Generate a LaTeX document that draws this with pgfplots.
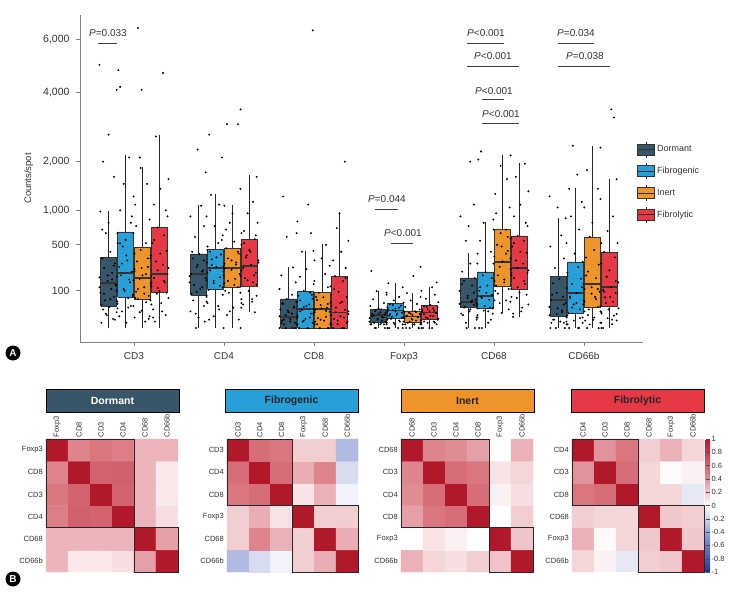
\documentclass[border=0pt]{standalone}
\usepackage{pgfplots}
\pgfplotsset{compat=1.18}
\usepackage{fontspec}
\setmainfont{Liberation Sans}
\definecolor{cDor}{HTML}{37566A}
\definecolor{cFib}{HTML}{28A0D7}
\definecolor{cIne}{HTML}{EE942A}
\definecolor{cFbl}{HTML}{E63946}
\definecolor{cEdge}{HTML}{333333}
\pgfplotsset{/pgf/number format/assume math mode=true}
\pgfplotsset{
  colorbar shift/.style={},
  pts/.style={forget plot, only marks, mark=*, mark size=0.75pt, mark options={draw=none,fill=black}},
  colormap={corr}{rgb255(0cm)=(26,58,150); rgb255(1cm)=(125,140,205); rgb255(2cm)=(255,255,255); rgb255(3cm)=(218,118,128); rgb255(4cm)=(178,24,43)},
  hm/.style={anchor=south west, scale only axis, height=133pt,
     xmin=-0.5,xmax=5.5,ymin=-0.5,ymax=5.5, enlargelimits=false,
     axis line style={draw=none}, major tick length=0pt,
     xtick={0,...,5}, ytick={0,...,5}, xticklabel pos=right,
     xticklabel style={rotate=90, anchor=west, font=\fontsize{7.5}{8}\selectfont, text=black!80, inner sep=1.5pt},
     yticklabel style={font=\fontsize{7.5}{8}\selectfont, text=black!80, inner sep=3pt},
     colormap name=corr, point meta min=-1, point meta max=1, clip=false},
  hmplot/.style={matrix plot*, mesh/cols=6, point meta=explicit},
}
% box: #1 colour, #2 position, #3 lower whisker, #4 Q1, #5 median, #6 Q3, #7 upper whisker
\newcommand{\bxp}[7]{%
 \addplot[forget plot, black!85, line width=1.2pt] table[row sep=\\, x expr=#2, y expr=sqrt(\thisrow{v})]{v\\ #3\\ #7\\};
 \addplot[forget plot, fill=#1, draw=cEdge, line width=0.9pt, line join=miter] table[row sep=\\, x expr=#2+\thisrow{d}, y expr=sqrt(\thisrow{v})]{d v\\ -0.089 #4\\ 0.089 #4\\ 0.089 #6\\ -0.089 #6\\ -0.089 #4\\};
 \addplot[forget plot, cEdge, line width=1.3pt] table[row sep=\\, x expr=#2+\thisrow{d}, y expr=sqrt(\thisrow{v})]{d v\\ -0.089 #5\\ 0.089 #5\\};
}
% jittered points: #1 box position, #2 rows "jitter value\\"
\newcommand{\ptP}[2]{\addplot[pts] table[row sep=\\, x expr=#1+(\thisrow{j}), y expr=sqrt(\thisrow{v})]{j v\\ #2};}
\newcommand{\ptM}[2]{\addplot[pts] table[row sep=\\, x expr=#1-(\thisrow{j}), y expr=sqrt(\thisrow{v})]{j v\\ #2};}
\begin{document}
\begin{tikzpicture}
\useasboundingbox (0pt,0pt) rectangle (735pt,592pt);
% ================= Panel A (square-root scale) =================
\begin{axis}[at={(80pt,250pt)}, anchor=south west, scale only axis,
  width=563pt, height=327pt, clip=false,
  xmin=-0.6, xmax=5.656, ymin=-3.755, ymax=84.12,
  axis x line*=bottom, axis y line*=left,
  axis line style={draw=gray, line width=0.9pt},
  tick align=outside, major tick length=4pt, tick style={draw=gray, line width=0.9pt},
  xtick={0,...,5}, xticklabels={CD3,CD4,CD8,Foxp3,CD68,CD66b},
  ytick={10,22.3607,31.6228,44.7214,63.2456,77.4597},
  yticklabels={100,500,{1,000},{2,000},{4,000},{6,000}},
  xticklabel style={font=\fontsize{10}{12}\selectfont, text=black!80, yshift=-3pt},
  yticklabel style={font=\fontsize{10.5}{12}\selectfont, text=black!80, xshift=-3pt},
  ylabel={Counts/spot},
  ylabel style={font=\fontsize{9.5}{11}\selectfont, text=black!80, at={(axis description cs:-0.077,0.5)}, anchor=south},
  legend style={at={(0.9893,0.615)}, anchor=north west, draw=none, fill=none, inner sep=0pt,
     font=\fontsize{9}{10}\selectfont, text=black!80, row sep=4.8pt},
  legend cell align=left,
]
% --- CD3
\bxp{cDor}{-0.283}{0}{35}{146}{364}{989}
\bxp{cFib}{-0.094}{0}{69}{219}{666}{2163}
\bxp{cIne}{0.094}{0}{57}{181}{474}{1873}
\bxp{cFbl}{0.283}{0}{89}{211}{737}{2692}
% --- CD4
\bxp{cDor}{0.717}{0}{79}{211}{396}{1093}
\bxp{cFib}{0.906}{0}{110}{260}{451}{1297}
\bxp{cIne}{1.094}{0}{121}{260}{462}{1093}
\bxp{cFbl}{1.283}{18}{127}{278}{572}{1691}
% --- CD8
\bxp{cDor}{1.717}{0}{0}{9}{61}{269}
\bxp{cFib}{1.906}{0}{0}{26}{99}{428}
\bxp{cIne}{2.094}{0}{0}{26}{89}{510}
\bxp{cFbl}{2.283}{0}{0}{18}{195}{972}
% --- Foxp3
\bxp{cDor}{2.717}{0}{2}{12}{26}{99}
\bxp{cFib}{2.906}{0}{6}{23}{45}{146}
\bxp{cIne}{3.094}{0}{2}{10}{21}{89}
\bxp{cFbl}{3.283}{0}{5}{18}{38}{121}
% --- CD68
\bxp{cDor}{3.717}{0}{32}{49}{181}{406}
\bxp{cFib}{3.906}{0}{29}{74}{227}{812}
\bxp{cIne}{4.094}{16}{127}{315}{708}{2163}
\bxp{cFbl}{4.283}{9}{110}{260}{612}{1967}
% --- CD66b
\bxp{cDor}{4.717}{0}{9}{57}{195}{874}
\bxp{cFib}{4.906}{0}{16}{89}{315}{1416}
\bxp{cIne}{5.094}{0}{32}{140}{598}{2394}
\bxp{cFbl}{5.283}{0}{35}{121}{417}{1604}
% ---------- points
% CD3
\ptP{-0.283}{-0.08 2\\ 0.05 6\\ -0.02 12\\ 0.09 18\\ -0.06 25\\ 0.01 32\\ 0.10 42\\ -0.04 55\\ 0.06 70\\ -0.09 90\\ 0.03 110\\ 0.08 135\\ -0.01 160\\ -0.10 185\\ 0.04 220\\ -0.05 260\\ 0.07 300\\ -0.07 350\\ 0.02 420\\ 0.10 520\\ -0.03 650\\ 0.00 800\\ -0.09 980\\ 0.06 1650\\ -0.06 2000\\ 0.00 2700\\ -0.10 5000\\}
\ptP{-0.094}{0.01 2\\ 0.10 8\\ -0.04 20\\ 0.06 35\\ -0.09 50\\ 0.03 65\\ 0.08 80\\ -0.01 100\\ -0.10 130\\ 0.04 170\\ -0.05 200\\ 0.07 230\\ -0.07 270\\ 0.02 330\\ 0.10 400\\ -0.03 480\\ 0.00 560\\ -0.09 650\\ 0.06 800\\ -0.06 1000\\ 0.09 1250\\ -0.02 1500\\ 0.04 2100\\ -0.10 4100\\ -0.06 4200\\ -0.08 4800\\}
\ptP{0.094}{0.03 3\\ 0.08 10\\ -0.01 22\\ -0.10 35\\ 0.04 48\\ -0.05 60\\ 0.07 75\\ -0.07 95\\ 0.02 120\\ 0.10 150\\ -0.03 175\\ 0.00 200\\ -0.09 230\\ 0.06 270\\ -0.06 320\\ 0.09 380\\ -0.02 440\\ 0.04 520\\ -0.10 650\\ 0.08 850\\ -0.08 1100\\ 0.05 1500\\ -0.02 1850\\ -0.03 2100\\ -0.01 4100\\ -0.05 6500\\}
\ptP{0.283}{-0.05 3\\ 0.07 12\\ -0.07 25\\ 0.02 45\\ 0.10 65\\ -0.03 85\\ 0.00 100\\ -0.09 125\\ 0.06 150\\ -0.06 180\\ 0.09 210\\ -0.02 240\\ 0.04 290\\ -0.10 350\\ 0.08 430\\ -0.08 520\\ 0.05 620\\ -0.02 730\\ 0.09 900\\ -0.06 1100\\ 0.01 1400\\ 0.10 1600\\ -0.04 2650\\ 0.04 4700\\}
\ptP{-0.283}{0.07 5\\ -0.03 15\\ 0.10 28\\ -0.08 40\\ 0.02 60\\ -0.05 85\\ 0.09 100\\ -0.10 120\\ 0.04 170\\ -0.01 200\\ 0.06 280\\ -0.07 700\\}
\ptM{-0.094}{0.07 10\\ -0.03 30\\ 0.10 55\\ -0.08 75\\ 0.02 110\\ -0.05 150\\ 0.09 190\\ -0.10 250\\ 0.04 300\\ -0.01 380\\ 0.06 520\\ -0.07 900\\}
\ptP{0.094}{0.07 6\\ -0.03 18\\ 0.10 40\\ -0.08 65\\ 0.02 85\\ -0.05 110\\ 0.09 140\\ -0.10 165\\ 0.04 210\\ -0.01 260\\ 0.06 350\\ -0.07 750\\}
\ptM{0.283}{0.07 8\\ -0.03 20\\ 0.10 55\\ -0.08 90\\ 0.02 115\\ -0.05 160\\ 0.09 195\\ -0.10 260\\ 0.04 320\\ -0.01 400\\ 0.06 560\\ -0.07 1000\\}
% CD4
\ptP{0.717}{-0.03 0\\ 0.00 8\\ -0.09 20\\ 0.06 35\\ -0.06 55\\ 0.09 75\\ -0.02 95\\ 0.04 120\\ -0.10 150\\ 0.08 180\\ -0.08 210\\ 0.05 240\\ -0.02 270\\ 0.09 310\\ -0.06 350\\ 0.01 395\\ 0.10 480\\ -0.04 600\\ 0.06 750\\ -0.09 900\\ 0.03 1080\\ 0.08 1750\\ -0.01 2300\\}
\ptP{0.906}{0.09 0\\ -0.02 10\\ 0.04 25\\ -0.10 50\\ 0.08 80\\ -0.08 105\\ 0.05 130\\ -0.02 160\\ 0.09 200\\ -0.06 240\\ 0.01 270\\ 0.10 300\\ -0.04 340\\ 0.06 390\\ -0.09 440\\ 0.03 520\\ 0.08 620\\ -0.01 750\\ -0.10 900\\ 0.04 1100\\ -0.05 1280\\ 0.07 2100\\ -0.07 2700\\}
\ptP{1.094}{0.09 0\\ -0.06 12\\ 0.01 30\\ 0.10 60\\ -0.04 90\\ 0.06 120\\ -0.09 145\\ 0.03 175\\ 0.08 210\\ -0.01 245\\ -0.10 275\\ 0.04 310\\ -0.05 350\\ 0.07 400\\ -0.07 460\\ 0.02 540\\ 0.10 650\\ -0.03 800\\ 0.00 950\\ -0.09 1080\\ 0.06 3000\\ -0.06 3000\\ 0.09 3450\\}
\ptP{1.283}{0.06 18\\ -0.09 30\\ 0.03 50\\ 0.08 75\\ -0.01 100\\ -0.10 125\\ 0.04 150\\ -0.05 180\\ 0.07 220\\ -0.07 260\\ 0.02 290\\ 0.10 330\\ -0.03 380\\ 0.00 440\\ -0.09 500\\ 0.06 570\\ -0.06 680\\ 0.09 800\\ -0.02 950\\ 0.04 1150\\ -0.10 1400\\ 0.08 1650\\}
\ptP{0.717}{0.07 3\\ -0.03 15\\ 0.10 45\\ -0.08 85\\ 0.02 110\\ -0.05 135\\ 0.09 165\\ -0.10 195\\ 0.04 230\\ -0.01 290\\ 0.06 330\\ -0.07 420\\}
\ptM{0.906}{0.07 5\\ -0.03 35\\ 0.10 70\\ -0.08 120\\ 0.02 145\\ -0.05 185\\ 0.09 220\\ -0.10 255\\ 0.04 285\\ -0.01 360\\ 0.06 420\\ -0.07 560\\}
\ptP{1.094}{0.07 5\\ -0.03 20\\ 0.10 45\\ -0.08 100\\ 0.02 135\\ -0.05 160\\ 0.09 195\\ -0.10 230\\ 0.04 290\\ -0.01 330\\ 0.06 420\\ -0.07 700\\}
\ptM{1.283}{0.07 40\\ -0.03 60\\ 0.10 90\\ -0.08 135\\ 0.02 165\\ -0.05 200\\ 0.09 240\\ -0.10 310\\ 0.04 360\\ -0.01 420\\ 0.06 520\\ -0.07 620\\}
% CD8
\ptP{1.717}{-0.10 0\\ 0.04 0\\ -0.05 1\\ 0.07 2\\ -0.07 4\\ 0.02 6\\ 0.10 9\\ -0.03 12\\ 0.00 18\\ -0.09 25\\ 0.06 33\\ -0.06 42\\ 0.09 50\\ -0.02 60\\ 0.04 80\\ -0.10 110\\ 0.08 150\\ -0.08 200\\ 0.05 265\\ -0.02 600\\ 0.09 650\\ -0.06 1250\\}
\ptP{1.906}{0.02 0\\ 0.10 1\\ -0.03 3\\ 0.00 6\\ -0.09 10\\ 0.06 15\\ -0.06 20\\ 0.09 26\\ -0.02 32\\ 0.04 40\\ -0.10 50\\ 0.08 62\\ -0.08 75\\ 0.05 90\\ -0.02 100\\ 0.09 140\\ -0.06 190\\ 0.01 250\\ 0.10 330\\ -0.04 420\\ 0.06 650\\ -0.09 820\\ 0.03 1100\\ 0.08 6400\\}
\ptP{2.094}{0.06 0\\ -0.06 1\\ 0.09 2\\ -0.02 5\\ 0.04 9\\ -0.10 14\\ 0.08 19\\ -0.08 24\\ 0.05 30\\ -0.02 38\\ 0.09 47\\ -0.06 57\\ 0.01 68\\ 0.10 80\\ -0.04 90\\ 0.06 120\\ -0.09 160\\ 0.03 210\\ 0.08 280\\ -0.01 350\\ -0.10 430\\ 0.04 500\\}
\ptP{2.283}{0.05 0\\ -0.02 1\\ 0.09 3\\ -0.06 6\\ 0.01 10\\ 0.10 14\\ -0.04 18\\ 0.06 24\\ -0.09 35\\ 0.03 50\\ 0.08 70\\ -0.01 95\\ -0.10 125\\ 0.04 160\\ -0.05 195\\ 0.07 260\\ -0.07 330\\ 0.02 420\\ 0.10 550\\ -0.03 720\\ 0.00 950\\ 0.06 2000\\}
\ptP{1.717}{0.07 0\\ -0.03 0\\ 0.10 1\\ -0.08 2\\ 0.02 3\\ -0.05 5\\ 0.09 7\\ -0.10 10\\ 0.04 15\\ -0.01 22\\ 0.06 30\\ -0.07 45\\}
\ptM{1.906}{0.07 0\\ -0.03 0\\ 0.10 1\\ -0.08 2\\ 0.02 4\\ -0.05 8\\ 0.09 12\\ -0.10 18\\ 0.04 24\\ -0.01 35\\ 0.06 55\\ -0.07 80\\}
\ptP{2.094}{0.07 0\\ -0.03 0\\ 0.10 1\\ -0.08 3\\ 0.02 4\\ -0.05 7\\ 0.09 11\\ -0.10 16\\ 0.04 21\\ -0.01 28\\ 0.06 42\\ -0.07 70\\}
\ptM{2.283}{0.07 0\\ -0.03 0\\ 0.10 1\\ -0.08 2\\ 0.02 4\\ -0.05 8\\ 0.09 12\\ -0.10 20\\ 0.04 30\\ -0.01 45\\ 0.06 110\\ -0.07 180\\}
% Foxp3
\ptP{2.717}{0.10 0\\ -0.04 0\\ 0.06 1\\ -0.09 1\\ 0.03 2\\ 0.08 3\\ -0.01 5\\ -0.10 7\\ 0.04 9\\ -0.05 11\\ 0.07 13\\ -0.07 15\\ 0.02 18\\ 0.10 21\\ -0.03 24\\ 0.00 27\\ -0.09 35\\ 0.06 45\\ -0.06 60\\ 0.09 80\\ -0.02 98\\ -0.08 235\\}
\ptP{2.906}{0.08 0\\ -0.01 1\\ -0.10 2\\ 0.04 4\\ -0.05 6\\ 0.07 8\\ -0.07 11\\ 0.02 15\\ 0.10 19\\ -0.03 23\\ 0.00 27\\ -0.09 31\\ 0.06 36\\ -0.06 41\\ 0.09 46\\ -0.02 55\\ 0.04 70\\ -0.10 90\\ 0.08 120\\ -0.08 145\\}
\ptP{3.094}{0.07 0\\ -0.07 0\\ 0.02 1\\ 0.10 2\\ -0.03 3\\ 0.00 5\\ -0.09 7\\ 0.06 9\\ -0.06 11\\ 0.09 13\\ -0.02 15\\ 0.04 18\\ -0.10 21\\ 0.08 25\\ -0.08 32\\ 0.05 42\\ -0.02 55\\ 0.09 70\\ -0.06 88\\ 0.01 195\\ 0.09 270\\}
\ptP{3.283}{0.00 0\\ -0.09 1\\ 0.06 2\\ -0.06 3\\ 0.09 5\\ -0.02 7\\ 0.04 10\\ -0.10 13\\ 0.08 16\\ -0.08 19\\ 0.05 22\\ -0.02 26\\ 0.09 30\\ -0.06 34\\ 0.01 38\\ 0.10 48\\ -0.04 62\\ 0.06 80\\ -0.09 100\\ 0.03 120\\ 0.08 150\\}
\ptP{2.717}{0.07 0\\ -0.03 0\\ 0.10 0\\ -0.08 1\\ 0.02 1\\ -0.05 2\\ 0.09 2\\ -0.10 3\\ 0.04 4\\ -0.01 6\\ 0.06 8\\ -0.07 10\\ 0.00 14\\ 0.08 17\\ -0.04 20\\ 0.03 25\\}
\ptM{2.906}{0.07 0\\ -0.03 0\\ 0.10 1\\ -0.08 1\\ 0.02 2\\ -0.05 3\\ 0.09 5\\ -0.10 7\\ 0.04 9\\ -0.01 12\\ 0.06 14\\ -0.07 17\\ 0.00 20\\ 0.08 25\\ -0.04 30\\ 0.03 38\\}
\ptP{3.094}{0.07 0\\ -0.03 0\\ 0.10 0\\ -0.08 1\\ 0.02 1\\ -0.05 2\\ 0.09 2\\ -0.10 3\\ 0.04 4\\ -0.01 6\\ 0.06 8\\ -0.07 10\\ 0.00 12\\ 0.08 14\\ -0.04 17\\ 0.03 20\\}
\ptM{3.283}{0.07 0\\ -0.03 0\\ 0.10 1\\ -0.08 1\\ 0.02 2\\ -0.05 3\\ 0.09 4\\ -0.10 6\\ 0.04 8\\ -0.01 11\\ 0.06 14\\ -0.07 17\\ 0.00 20\\ 0.08 24\\ -0.04 28\\ 0.03 33\\}
% CD68
\ptP{3.717}{-0.02 0\\ 0.09 5\\ -0.06 12\\ 0.01 20\\ 0.10 28\\ -0.04 33\\ 0.06 38\\ -0.09 44\\ 0.03 49\\ 0.08 58\\ -0.01 75\\ -0.10 100\\ 0.04 130\\ -0.05 160\\ 0.07 180\\ -0.07 230\\ 0.02 300\\ 0.10 400\\ -0.03 550\\ 0.00 750\\ -0.09 900\\ 0.06 1100\\ 0.02 2000\\}
\ptP{3.906}{-0.04 0\\ 0.06 5\\ -0.09 12\\ 0.03 20\\ 0.08 28\\ -0.01 35\\ -0.10 45\\ 0.04 58\\ -0.05 70\\ 0.07 80\\ -0.07 100\\ 0.02 130\\ 0.10 160\\ -0.03 200\\ 0.00 225\\ -0.09 300\\ 0.06 420\\ -0.06 550\\ 0.09 700\\ -0.02 800\\ -0.08 2050\\ -0.05 2250\\}
\ptP{4.094}{-0.01 16\\ -0.10 30\\ 0.04 55\\ -0.05 85\\ 0.07 110\\ -0.07 130\\ 0.02 170\\ 0.10 220\\ -0.03 270\\ 0.00 320\\ -0.09 370\\ 0.06 430\\ -0.06 500\\ 0.09 580\\ -0.02 650\\ 0.04 700\\ -0.10 850\\ 0.08 1050\\ -0.08 1300\\ 0.05 1600\\ -0.02 1900\\ 0.09 2150\\}
\ptP{4.283}{-0.07 9\\ 0.02 20\\ 0.10 40\\ -0.03 65\\ 0.00 90\\ -0.09 110\\ 0.06 140\\ -0.06 180\\ 0.09 220\\ -0.02 260\\ 0.04 300\\ -0.10 350\\ 0.08 410\\ -0.08 480\\ 0.05 550\\ -0.02 610\\ 0.09 750\\ -0.06 900\\ 0.01 1100\\ 0.10 1350\\ -0.04 1650\\ 0.06 1950\\}
\ptP{3.717}{0.07 0\\ -0.03 2\\ 0.10 8\\ -0.08 15\\ 0.02 25\\ -0.05 30\\ 0.09 36\\ -0.10 42\\ 0.04 55\\ -0.01 65\\ 0.06 90\\ -0.07 140\\}
\ptM{3.906}{0.07 0\\ -0.03 2\\ 0.10 8\\ -0.08 15\\ 0.02 22\\ -0.05 30\\ 0.09 40\\ -0.10 55\\ 0.04 65\\ -0.01 90\\ 0.06 120\\ -0.07 180\\}
\ptP{4.094}{0.07 25\\ -0.03 45\\ 0.10 70\\ -0.08 100\\ 0.02 150\\ -0.05 200\\ 0.09 250\\ -0.10 300\\ 0.04 400\\ -0.01 480\\ 0.06 600\\ -0.07 950\\}
\ptM{4.283}{0.07 15\\ -0.03 30\\ 0.10 50\\ -0.08 80\\ 0.02 120\\ -0.05 160\\ 0.09 200\\ -0.10 240\\ 0.04 330\\ -0.01 420\\ 0.06 520\\ -0.07 800\\}
% CD66b
\ptP{4.717}{-0.09 0\\ 0.06 2\\ -0.06 5\\ 0.09 9\\ -0.02 14\\ 0.04 22\\ -0.10 32\\ 0.08 45\\ -0.08 57\\ 0.05 70\\ -0.02 90\\ 0.09 115\\ -0.06 145\\ 0.01 175\\ 0.10 195\\ -0.04 260\\ 0.06 350\\ -0.09 480\\ 0.03 620\\ 0.08 870\\ -0.01 1050\\ -0.10 1250\\}
\ptP{4.906}{0.04 0\\ -0.10 3\\ 0.08 8\\ -0.08 16\\ 0.05 25\\ -0.02 40\\ 0.09 55\\ -0.06 72\\ 0.01 89\\ 0.10 110\\ -0.04 140\\ 0.06 175\\ -0.09 220\\ 0.03 270\\ 0.08 315\\ -0.01 400\\ -0.10 520\\ 0.04 700\\ -0.05 900\\ 0.07 1150\\ -0.07 1400\\ 0.02 1700\\ -0.03 2400\\}
\ptP{5.094}{-0.06 0\\ 0.01 5\\ 0.10 15\\ -0.04 25\\ 0.06 32\\ -0.09 50\\ 0.03 70\\ 0.08 95\\ -0.01 120\\ -0.10 140\\ 0.04 180\\ -0.05 230\\ 0.07 290\\ -0.07 360\\ 0.02 440\\ 0.10 520\\ -0.03 600\\ 0.00 800\\ -0.09 1050\\ 0.06 1400\\ -0.06 1800\\ 0.09 2350\\}
\ptP{5.283}{-0.09 0\\ 0.03 5\\ 0.08 14\\ -0.01 25\\ -0.10 35\\ 0.04 50\\ -0.05 68\\ 0.07 88\\ -0.07 105\\ 0.02 121\\ 0.10 150\\ -0.03 190\\ 0.00 240\\ -0.09 300\\ 0.06 360\\ -0.06 417\\ 0.09 520\\ -0.02 680\\ 0.04 900\\ -0.10 1200\\ 0.08 1600\\ 0.05 3200\\ 0.02 3450\\}
\ptP{4.717}{0.07 0\\ -0.03 0\\ 0.10 1\\ -0.08 2\\ 0.02 3\\ -0.05 5\\ 0.09 8\\ -0.10 12\\ 0.04 18\\ -0.01 28\\ 0.06 40\\ -0.07 80\\}
\ptM{4.906}{0.07 0\\ -0.03 0\\ 0.10 1\\ -0.08 2\\ 0.02 4\\ -0.05 7\\ 0.09 12\\ -0.10 20\\ 0.04 30\\ -0.01 45\\ 0.06 65\\ -0.07 120\\}
\ptP{5.094}{0.07 0\\ -0.03 1\\ 0.10 2\\ -0.08 4\\ 0.02 8\\ -0.05 12\\ 0.09 20\\ -0.10 40\\ 0.04 60\\ -0.01 85\\ 0.06 110\\ -0.07 200\\}
\ptM{5.283}{0.07 0\\ -0.03 1\\ 0.10 2\\ -0.08 4\\ 0.02 7\\ -0.05 11\\ 0.09 18\\ -0.10 28\\ 0.04 45\\ -0.01 70\\ 0.06 95\\ -0.07 160\\}
% ---------- legend
\addlegendimage{legend image code/.code={\draw[black!85,line width=1pt](8.5pt,-8pt)--(8.5pt,8pt);\draw[fill=cDor,draw=cEdge,line width=0.9pt](0pt,-5.5pt)rectangle(17pt,5.5pt);\draw[cEdge,line width=1pt](0pt,0pt)--(17pt,0pt);}}
\addlegendentry{Dormant}
\addlegendimage{legend image code/.code={\draw[black!85,line width=1pt](8.5pt,-8pt)--(8.5pt,8pt);\draw[fill=cFib,draw=cEdge,line width=0.9pt](0pt,-5.5pt)rectangle(17pt,5.5pt);\draw[cEdge,line width=1pt](0pt,0pt)--(17pt,0pt);}}
\addlegendentry{Fibrogenic}
\addlegendimage{legend image code/.code={\draw[black!85,line width=1pt](8.5pt,-8pt)--(8.5pt,8pt);\draw[fill=cIne,draw=cEdge,line width=0.9pt](0pt,-5.5pt)rectangle(17pt,5.5pt);\draw[cEdge,line width=1pt](0pt,0pt)--(17pt,0pt);}}
\addlegendentry{Inert}
\addlegendimage{legend image code/.code={\draw[black!85,line width=1pt](8.5pt,-8pt)--(8.5pt,8pt);\draw[fill=cFbl,draw=cEdge,line width=0.9pt](0pt,-5.5pt)rectangle(17pt,5.5pt);\draw[cEdge,line width=1pt](0pt,0pt)--(17pt,0pt);}}
\addlegendentry{Fibrolytic}
\end{axis}
% P-value annotations
\begin{scope}[every node/.style={anchor=base, font=\fontsize{10}{12}\selectfont, text=black!80, inner sep=0pt}]
\node at (108pt,555pt) {\textit{P}=0.033};
\draw[black!75,line width=0.8pt] (98pt,549pt)--(117pt,549pt);
\node at (387pt,389pt) {\textit{P}=0.044};
\draw[black!75,line width=0.8pt] (375pt,383pt)--(398pt,383pt);
\node at (403pt,355pt) {\textit{P}<0.001};
\draw[black!75,line width=0.8pt] (391pt,349pt)--(413pt,349pt);
\node at (486pt,555pt) {\textit{P}<0.001};
\draw[black!75,line width=0.8pt] (467pt,549pt)--(504pt,549pt);
\node at (493pt,532pt) {\textit{P}<0.001};
\draw[black!75,line width=0.8pt] (467pt,526pt)--(519pt,526pt);
\node at (494pt,497pt) {\textit{P}<0.001};
\draw[black!75,line width=0.8pt] (482pt,492.5pt)--(504pt,492.5pt);
\node at (501pt,474.5pt) {\textit{P}<0.001};
\draw[black!75,line width=0.8pt] (482pt,469pt)--(519pt,469pt);
\node at (576pt,555pt) {\textit{P}=0.034};
\draw[black!75,line width=0.8pt] (558pt,549pt)--(594pt,549pt);
\node at (585pt,532pt) {\textit{P}=0.038};
\draw[black!75,line width=0.8pt] (558pt,526pt)--(610pt,526pt);
\end{scope}
\node[circle, fill=black, text=white, inner sep=0pt, minimum size=15pt, font=\bfseries\fontsize{10}{10}\selectfont] at (13pt,239pt) {A};
\node[circle, fill=black, text=white, inner sep=0pt, minimum size=15pt, font=\bfseries\fontsize{10}{10}\selectfont] at (13pt,13pt) {B};
% ================= Panel B =================
% Dormant
\begin{axis}[hm, at={(46pt,20pt)}, width=132pt,
  xticklabels={Foxp3,CD8,CD3,CD4,CD68,CD66b},
  yticklabels={CD66b,CD68,CD4,CD3,CD8,Foxp3}]
\addplot[hmplot] table[row sep=\\, meta=c]{x y c\\
0 0 0.27\\ 1 0 0.08\\ 2 0 0.08\\ 3 0 0.12\\ 4 0 0.35\\ 5 0 1\\
0 1 0.27\\ 1 1 0.27\\ 2 1 0.27\\ 3 1 0.27\\ 4 1 1\\ 5 1 0.35\\
0 2 0.47\\ 1 2 0.62\\ 2 2 0.6\\ 3 2 1\\ 4 2 0.27\\ 5 2 0.12\\
0 3 0.5\\ 1 3 0.6\\ 2 3 1\\ 3 3 0.6\\ 4 3 0.27\\ 5 3 0.08\\
0 4 0.45\\ 1 4 1\\ 2 4 0.6\\ 3 4 0.62\\ 4 4 0.27\\ 5 4 0.08\\
0 5 1\\ 1 5 0.45\\ 2 5 0.5\\ 3 5 0.47\\ 4 5 0.27\\ 5 5 0.27\\};
\draw[black!85,line width=0.9pt] (axis cs:-0.5,1.5) rectangle (axis cs:3.5,5.5);
\draw[black!85,line width=0.9pt] (axis cs:3.5,-0.5) rectangle (axis cs:5.5,1.5);
\end{axis}
% Fibrogenic
\begin{axis}[hm, at={(227pt,20pt)}, width=131pt,
  xticklabels={CD3,CD4,CD8,Foxp3,CD68,CD66b},
  yticklabels={CD66b,CD68,Foxp3,CD8,CD4,CD3}]
\addplot[hmplot] table[row sep=\\, meta=c]{x y c\\
0 0 -0.3\\ 1 0 -0.15\\ 2 0 -0.05\\ 3 0 0.18\\ 4 0 0.3\\ 5 0 1\\
0 1 0.18\\ 1 1 0.45\\ 2 1 0.28\\ 3 1 0.18\\ 4 1 1\\ 5 1 0.3\\
0 2 0.18\\ 1 2 0.3\\ 2 2 0.1\\ 3 2 1\\ 4 2 0.18\\ 5 2 0.18\\
0 3 0.5\\ 1 3 0.55\\ 2 3 1\\ 3 3 0.1\\ 4 3 0.28\\ 5 3 -0.05\\
0 4 0.55\\ 1 4 1\\ 2 4 0.55\\ 3 4 0.3\\ 4 4 0.45\\ 5 4 -0.15\\
0 5 1\\ 1 5 0.55\\ 2 5 0.5\\ 3 5 0.18\\ 4 5 0.18\\ 5 5 -0.3\\};
\draw[black!85,line width=0.9pt] (axis cs:-0.5,2.5) rectangle (axis cs:2.5,5.5);
\draw[black!85,line width=0.9pt] (axis cs:2.5,-0.5) rectangle (axis cs:5.5,2.5);
\end{axis}
% Inert
\begin{axis}[hm, at={(401pt,20pt)}, width=132pt,
  xticklabels={CD68,CD3,CD4,CD8,Foxp3,CD66b},
  yticklabels={CD66b,Foxp3,CD8,CD4,CD3,CD68}]
\addplot[hmplot] table[row sep=\\, meta=c]{x y c\\
0 0 0.28\\ 1 0 0.15\\ 2 0 0.12\\ 3 0 0.18\\ 4 0 0.22\\ 5 0 1\\
0 1 0.0\\ 1 1 0.1\\ 2 1 0.05\\ 3 1 0.0\\ 4 1 1\\ 5 1 0.22\\
0 2 0.35\\ 1 2 0.5\\ 2 2 0.55\\ 3 2 1\\ 4 2 0.0\\ 5 2 0.18\\
0 3 0.42\\ 1 3 0.55\\ 2 3 1\\ 3 3 0.55\\ 4 3 0.05\\ 5 3 0.12\\
0 4 0.45\\ 1 4 1\\ 2 4 0.55\\ 3 4 0.5\\ 4 4 0.1\\ 5 4 0.15\\
0 5 1\\ 1 5 0.45\\ 2 5 0.42\\ 3 5 0.35\\ 4 5 0.0\\ 5 5 0.28\\};
\draw[black!85,line width=0.9pt] (axis cs:-0.5,1.5) rectangle (axis cs:3.5,5.5);
\draw[black!85,line width=0.9pt] (axis cs:3.5,-0.5) rectangle (axis cs:5.5,1.5);
\end{axis}
% Fibrolytic
\begin{axis}[hm, at={(572pt,20pt)}, width=132pt,
  xticklabels={CD4,CD3,CD8,CD68,Foxp3,CD66b},
  yticklabels={CD66b,Foxp3,CD68,CD8,CD3,CD4},
  colorbar,
  colorbar style={at={(parent axis.north east)}, anchor=north west, xshift=1.5pt, width=4.5pt,
    ytick={-1,-0.8,-0.6,-0.4,-0.2,0,0.2,0.4,0.6,0.8,1},
    yticklabel style={font=\fontsize{7.5}{8}\selectfont, text=black!80, inner sep=1.5pt},
    major tick length=2pt, tick style={draw=black!70, line width=0.4pt},
    axis line style={draw=none}}]
\addplot[hmplot] table[row sep=\\, meta=c]{x y c\\
0 0 0.15\\ 1 0 0.05\\ 2 0 -0.1\\ 3 0 0.18\\ 4 0 0.2\\ 5 0 1\\
0 1 0.28\\ 1 1 0.02\\ 2 1 0.15\\ 3 1 0.2\\ 4 1 1\\ 5 1 0.2\\
0 2 0.18\\ 1 2 0.15\\ 2 2 0.15\\ 3 2 1\\ 4 2 0.2\\ 5 2 0.18\\
0 3 0.5\\ 1 3 0.55\\ 2 3 1\\ 3 3 0.15\\ 4 3 0.15\\ 5 3 -0.1\\
0 4 0.4\\ 1 4 1\\ 2 4 0.55\\ 3 4 0.15\\ 4 4 0.02\\ 5 4 0.05\\
0 5 1\\ 1 5 0.4\\ 2 5 0.5\\ 3 5 0.18\\ 4 5 0.28\\ 5 5 0.15\\};
\draw[black!85,line width=0.9pt] (axis cs:-0.5,2.5) rectangle (axis cs:2.5,5.5);
\draw[black!85,line width=0.9pt] (axis cs:2.5,-0.5) rectangle (axis cs:5.5,2.5);
\end{axis}
% title boxes
\begin{scope}[every node/.style={draw=black, line width=0.9pt, minimum width=133pt, minimum height=23pt, inner sep=0pt, font=\bfseries\fontsize{10.5}{12}\selectfont}]
\node[fill=cDor, text=white] at (112.5pt,191.5pt) {Dormant};
\node[fill=cFib, text=black!85] at (291.5pt,191.5pt) {Fibrogenic};
\node[fill=cIne, text=black!85] at (467.5pt,191.5pt) {Inert};
\node[fill=cFbl, text=black!85] at (637.5pt,191.5pt) {Fibrolytic};
\end{scope}
\end{tikzpicture}
\end{document}
